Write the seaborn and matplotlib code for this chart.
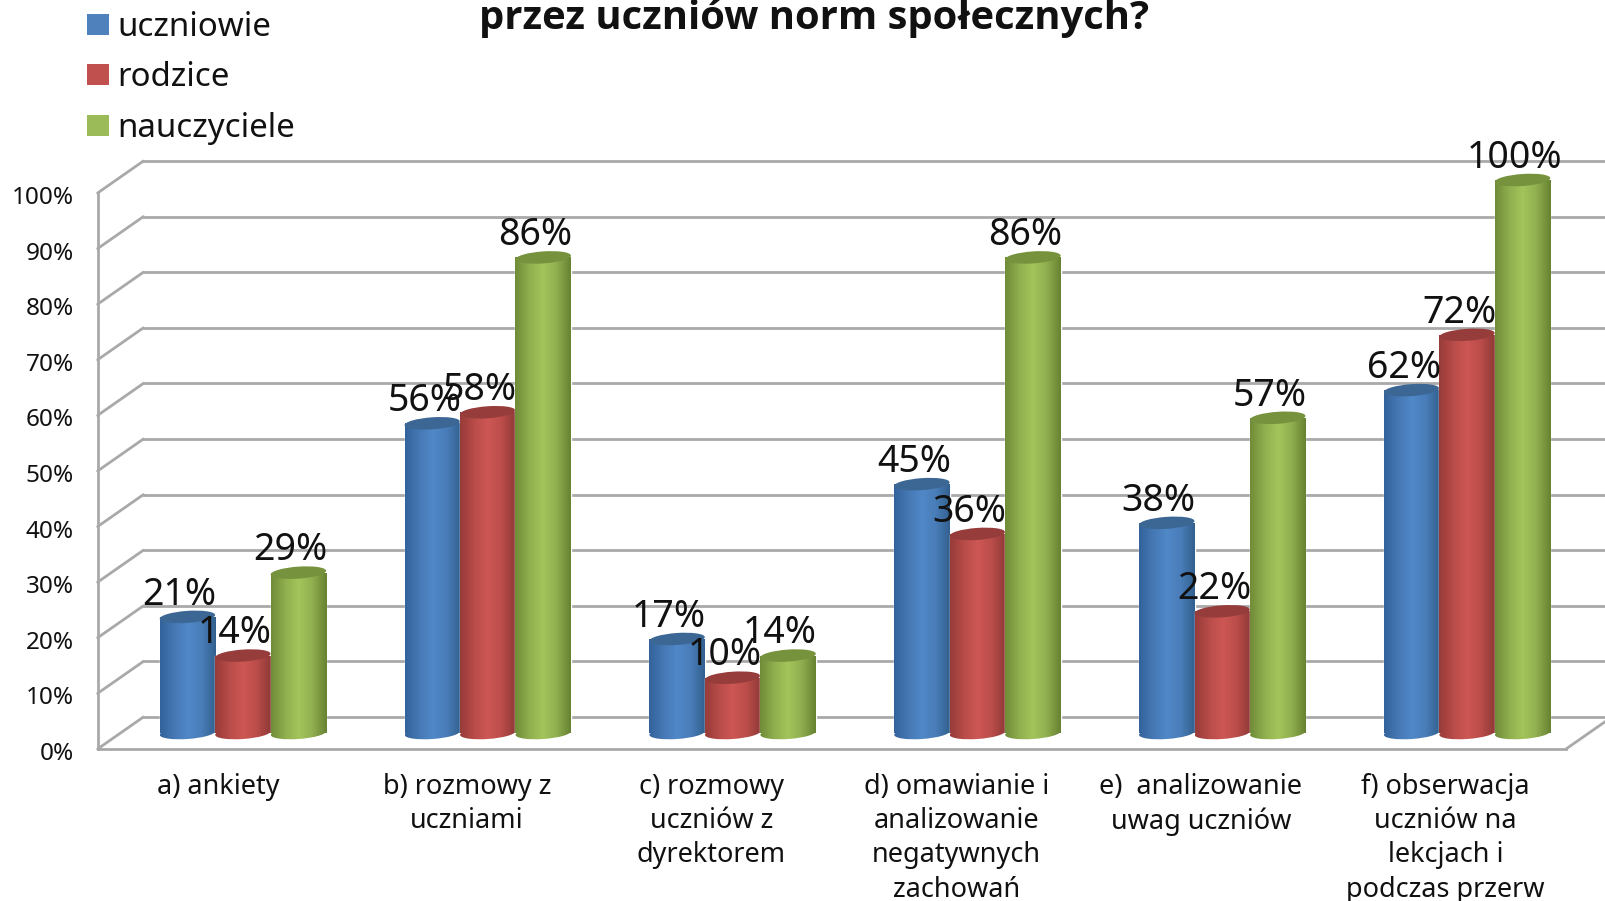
import numpy as np
import pandas as pd
import matplotlib
matplotlib.use('Agg')
import matplotlib.pyplot as plt
import matplotlib.transforms as mtransforms
from matplotlib.colors import LinearSegmentedColormap
from matplotlib.patches import Ellipse, Patch
import seaborn as sns

categories = ['a) ankiety', 'b) rozmowy z\nuczniami', 'c) rozmowy\nuczniów z\ndyrektorem',
              'd) omawianie i\nanalizowanie\nnegatywnych\nzachowań', 'e)  analizowanie\nuwag uczniów',
              'f) obserwacja\nuczniów na\nlekcjach i\npodczas przerw']
uczniowie = [21, 56, 17, 45, 38, 62]
rodzice = [14, 58, 10, 36, 22, 72]
nauczyciele = [29, 86, 14, 86, 57, 100]
y_ticks = [0, 10, 20, 30, 40, 50, 60, 70, 80, 90, 100]
title = 'przez uczniów norm społecznych?'

groups = ['uczniowie', 'rodzice', 'nauczyciele']
colors = ['#4f81bd', '#c0504d', '#9bbb59']
shades = [['#34639b', '#4678b4', '#5088c8', '#4a7db9', '#33618f'],
          ['#973c3a', '#b84c49', '#cd5754', '#bb4d4a', '#8f3a38'],
          ['#708c38', '#8fae4e', '#a3c55b', '#90ae4f', '#688332']]
caps = ['#3c6795', '#963d3b', '#76923c']

W, H = 1605, 901
DEPTH = 5.75  # wall depth in percent units
GRID = '#a9a9a9'

df = pd.DataFrame({'kategoria': categories, 'uczniowie': uczniowie,
                   'rodzice': rodzice, 'nauczyciele': nauczyciele})
df = df.melt(id_vars='kategoria', var_name='grupa', value_name='procent')

sns.set_theme(style='white')
plt.rcParams['font.family'] = ['Noto Sans', 'DejaVu Sans']

fig = plt.figure(figsize=(W / 100, H / 100), dpi=100)


def px_axes(left, right, top, bottom):
    return fig.add_axes([left / W, 1 - bottom / H, (right - left) / W, (bottom - top) / H])


def nudge(label, x_px, y_px):
    label.set_transform(label.get_transform() + mtransforms.Affine2D().translate(x_px, y_px))


# front plane: ticks and walls
ax = px_axes(97.6, 1566, 193, 749)
ax.set_xlim(-0.5, 5.5)
ax.set_ylim(0, 100)
ax.set_facecolor('none')
ax.set_xticks(range(len(categories)))
ax.set_xticklabels(categories, fontsize=19.5, color='#111111', linespacing=1.3, va='top')
ax.set_yticks(y_ticks)
ax.set_yticklabels([f'{v}%' for v in y_ticks], fontsize=17.5, color='#111111')
ax.tick_params(axis='both', length=0)
ax.tick_params(axis='x', pad=17)
ax.tick_params(axis='y', pad=17)
for lab in ax.get_yticklabels():
    nudge(lab, 0, -2)
for k, lab in enumerate(ax.get_xticklabels()):
    nudge(lab, -2 if k == 0 else 2, 0)
for s in ['top', 'right']:
    ax.spines[s].set_visible(False)
for s in ['left', 'bottom']:
    ax.spines[s].set_color(GRID)
    ax.spines[s].set_linewidth(2)

dx = 0.187
for v in y_ticks:
    ax.plot([-0.5, -0.5 + dx], [v, v + DEPTH], color=GRID, lw=2, clip_on=False)
    ax.plot([-0.5 + dx, 5.7], [v + DEPTH, v + DEPTH], color=GRID, lw=2, clip_on=False)
ax.plot([5.5, 5.5 + dx], [0, DEPTH], color=GRID, lw=2, clip_on=False)

# bars sit half way into the depth
bx = px_axes(120.5, 1589.5, 180, 733)
sns.barplot(data=df, x='kategoria', y='procent', hue='grupa', hue_order=groups, palette=colors,
            width=0.68, gap=0, saturation=1, legend=False, ax=bx)
bx.set_xlim(-0.5, 5.5)
bx.set_ylim(0, 100)
bx.axis('off')
bx.patch.set_alpha(0)


def px_ellipse(x, y, w, h, **kw):
    px, py = bx.transData.transform((x, y))
    tr = mtransforms.Affine2D().translate(px, py)
    return Ellipse((0, 0), w, h, angle=4, transform=tr, clip_on=False, **kw)


for i, cont in enumerate(bx.containers):
    cmap = LinearSegmentedColormap.from_list(groups[i], shades[i])
    grad = np.linspace(0, 1, 64).reshape(1, -1)
    for j, bar in enumerate(cont):
        z = 3 + i * 10 + j
        x0, x1, h = bar.get_x(), bar.get_x() + bar.get_width(), bar.get_height()
        xc = (x0 + x1) / 2
        w_px = bx.transData.transform((x1, 0))[0] - bx.transData.transform((x0, 0))[0]
        bar.set_zorder(z)
        img = bx.imshow(grad, cmap=cmap, extent=[x0, x1, 0, h], aspect='auto', zorder=z + 0.1)
        img.set_clip_path(bar)
        # rounded foot
        foot = px_ellipse(xc, 0, w_px, 12, fc='none', ec='none', zorder=z)
        bx.add_patch(foot)
        img2 = bx.imshow(grad, cmap=cmap, extent=[x0, x1, -3, 3], aspect='auto', zorder=z + 0.05)
        img2.set_clip_path(foot)
        img2.set_clip_box(fig.bbox)
        # top cap
        bx.add_patch(px_ellipse(xc, h, w_px, 12, fc=caps[i], ec='none', zorder=z + 0.2))
        bx.annotate(f'{int(h)}%', (xc, h), xytext=(-8 / 1.389, 16), textcoords='offset points',
                    ha='center', va='center', fontsize=27, color='#111111', zorder=100,
                    annotation_clip=False)
bx.set_xlim(-0.5, 5.5)
bx.set_ylim(0, 100)

fig.text(814 / W, 1 - 18 / H, title, ha='center', va='center', fontsize=28.8, fontweight='bold',
         family=['Open Sans', 'DejaVu Sans'], color='#111111')

handles = [Patch(facecolor=c, edgecolor='none') for c in colors]
fig.legend(handles, groups, loc='upper left', bbox_to_anchor=(77 / W, 1 - 1 / H), frameon=False,
           fontsize=23.8, handlelength=0.66, handleheight=0.6, handletextpad=0.25, labelspacing=0.53,
           labelcolor='#111111', borderaxespad=0, borderpad=0.3)

fig.savefig('out.png', dpi=100)
